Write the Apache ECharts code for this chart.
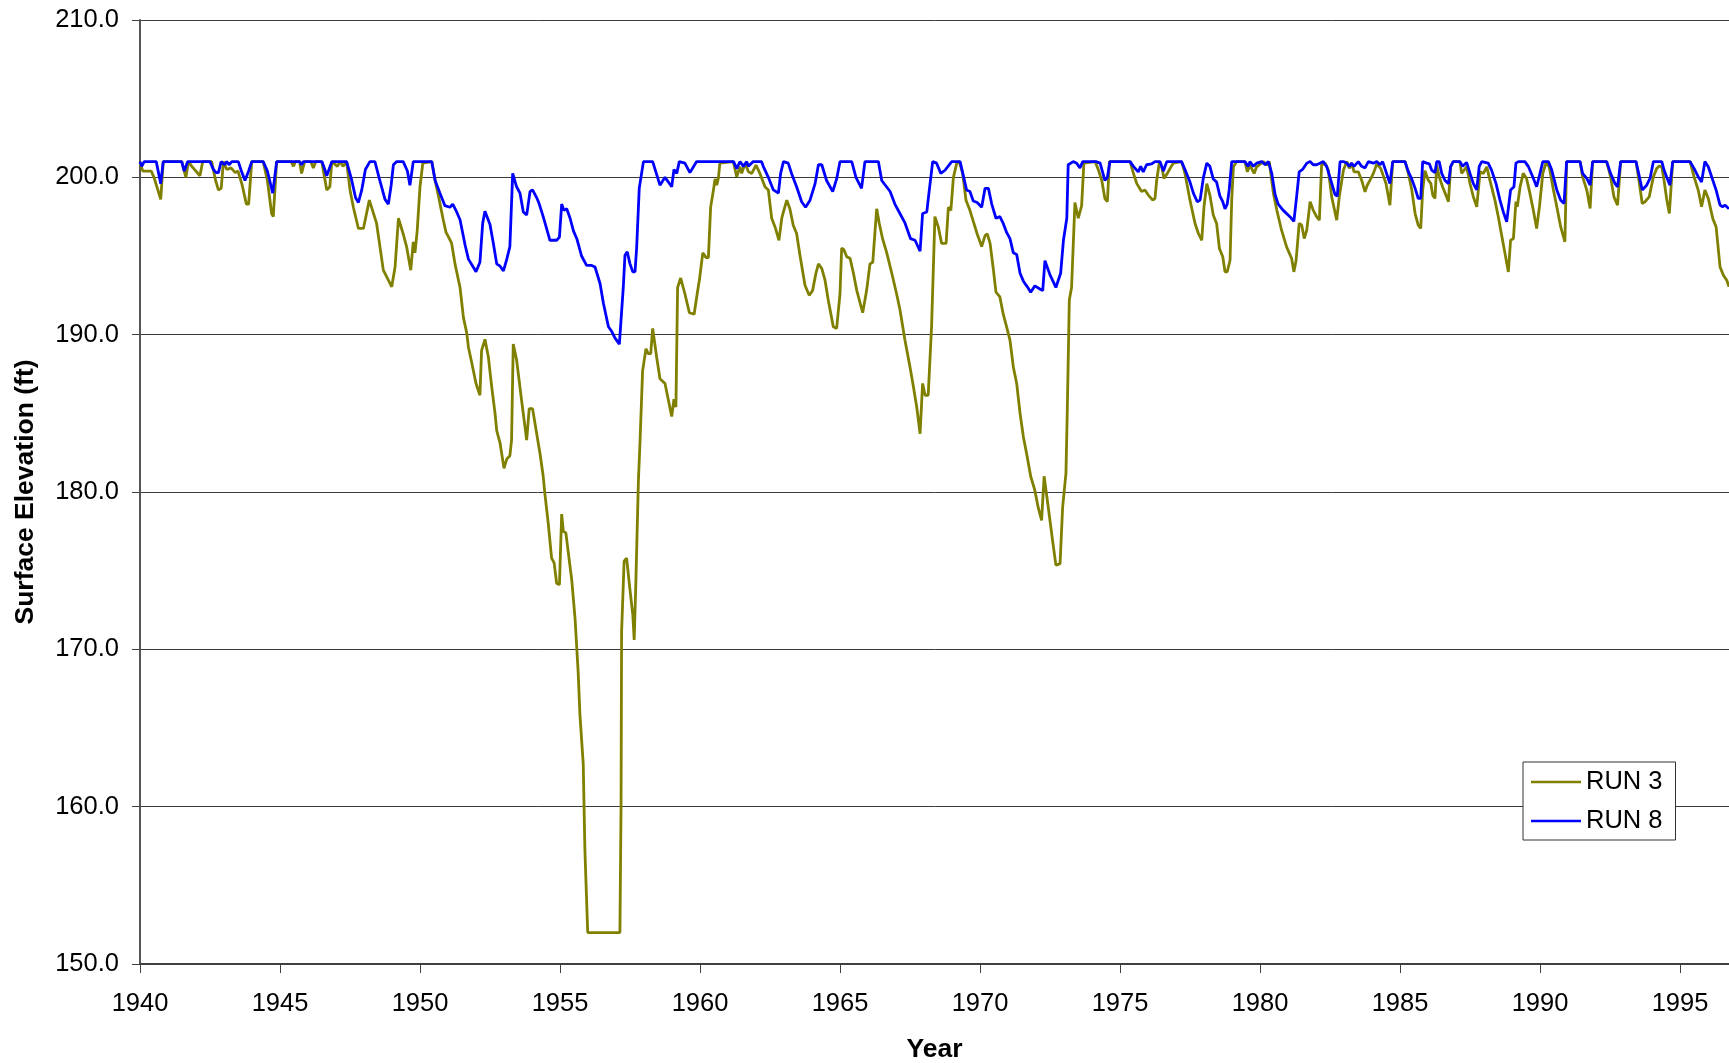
<!DOCTYPE html>
<html>
<head>
<meta charset="utf-8">
<title>Surface Elevation</title>
<script src="https://cdn.jsdelivr.net/npm/echarts@6/dist/echarts.min.js"></script>
<style>
  html, body { margin: 0; padding: 0; background: #fff; }
  #chart { width: 1729px; height: 1063px; }
</style>
</head>
<body>
<div id="chart"></div>
<script>
// Axis ticks
const yearTicks = [1940, 1945, 1950, 1955, 1960, 1965, 1970, 1975, 1980, 1985, 1990, 1995];
const elevationTicks = [150, 160, 170, 180, 190, 200, 210];

// RUN 3 surface elevation (ft), [year, value]
const run3_1940s = [
  [1940.00,200.9],[1940.10,200.4],[1940.40,200.4],[1940.50,200.0],[1940.74,198.6],[1940.83,201.0],
  [1941.49,201.0],[1941.64,200.0],[1941.73,201.0],[1941.85,200.7],[1942.14,200.1],[1942.24,201.0],
  [1942.56,201.0],[1942.70,199.8],[1942.80,199.2],[1942.90,199.3],[1942.98,201.0],[1943.10,200.5],
  [1943.25,200.6],[1943.40,200.3],[1943.50,200.4],[1943.65,199.5],[1943.80,198.3],[1943.88,198.3],
  [1943.99,201.0],[1944.40,201.0],[1944.55,199.8],[1944.70,197.7],[1944.76,197.5],[1944.88,201.0],
  [1945.40,201.0],[1945.48,200.7],[1945.55,201.0],[1945.70,201.0],[1945.77,200.25],[1945.88,201.0],
  [1946.10,201.0],[1946.19,200.6],[1946.28,201.0],[1946.49,201.0],[1946.67,199.2],[1946.78,199.4],
  [1946.85,201.0],[1947.05,200.7],[1947.15,201.0],[1947.25,200.7],[1947.38,201.0],[1947.50,199.2],
  [1947.62,198.1],[1947.80,196.75],[1947.98,196.75],[1948.19,198.55],[1948.45,197.07],[1948.69,194.1],
  [1948.87,193.46],[1948.99,193.04],[1949.11,194.3],[1949.23,197.4],[1949.40,196.4],[1949.52,195.6],
  [1949.67,194.1],[1949.76,195.9],[1949.82,195.2],[1949.90,196.6],[1950.00,199.4],[1950.10,200.9]
];
const run3_1950s = [
  [1950.42,201.0],[1950.54,199.8],[1950.66,198.8],[1950.83,197.3],[1950.93,196.5],[1951.05,196.1],
  [1951.13,195.8],[1951.25,194.5],[1951.43,193.0],[1951.55,191.1],[1951.67,190.1],[1951.73,189.2],
  [1951.85,188.2],[1952.00,186.9],[1952.14,186.15],[1952.20,189.0],[1952.32,189.7],[1952.44,188.6],
  [1952.56,186.7],[1952.68,185.0],[1952.74,183.9],[1952.86,183.1],[1953.00,181.5],[1953.10,182.1],
  [1953.21,182.3],[1953.27,183.3],[1953.33,189.4],[1953.45,188.4],[1953.63,185.8],[1953.81,183.3],
  [1953.90,185.3],[1954.02,185.3],[1954.14,184.0],[1954.29,182.4],[1954.40,181.0],[1954.46,179.9],
  [1954.58,178.0],[1954.70,175.8],[1954.79,175.5],[1954.88,174.2],[1954.98,174.1],[1955.06,178.6],
  [1955.12,177.5],[1955.21,177.4],[1955.30,176.1],[1955.42,174.4],[1955.54,171.9],[1955.65,168.5],
  [1955.71,165.9],[1955.83,162.7],[1955.89,157.2],[1955.99,152.0],[1956.67,152.0],[1957.14,152.0],
  [1957.18,160.0],[1957.20,171.1],[1957.29,175.6],[1957.38,175.8],[1957.48,174.1],[1957.60,172.2],
  [1957.65,170.6],[1957.71,174.3],[1957.80,180.7],[1957.86,183.3],[1957.95,187.7],[1958.07,189.1],
  [1958.15,188.8],[1958.24,188.8],[1958.31,190.4],[1958.45,188.6],[1958.57,187.2],[1958.75,186.9],
  [1958.99,184.8],[1959.07,185.9],[1959.14,185.4],[1959.20,193.0],[1959.31,193.6],[1959.46,192.6],
  [1959.62,191.4],[1959.79,191.3],[1959.90,192.6],[1959.98,193.5]
];
const run3_1960s = [
  [1960.10,195.2],[1960.22,194.9],[1960.30,194.9],[1960.38,198.1],[1960.48,199.2],[1960.54,199.9],
  [1960.60,199.5],[1960.66,200.0],[1960.71,200.9],[1961.19,201.0],[1961.31,200.04],[1961.43,200.67],
  [1961.49,200.25],[1961.61,200.9],[1961.73,200.35],[1961.85,200.25],[1962.00,200.78],[1962.14,200.25],
  [1962.32,199.4],[1962.44,199.2],[1962.56,197.4],[1962.68,196.85],[1962.82,196.0],[1962.92,197.4],
  [1962.98,197.8],[1963.10,198.55],[1963.21,198.0],[1963.33,196.96],[1963.45,196.43],[1963.57,195.05],
  [1963.75,193.14],[1963.90,192.5],[1964.02,192.8],[1964.14,193.9],[1964.23,194.5],[1964.35,194.2],
  [1964.46,193.5],[1964.58,192.2],[1964.76,190.5],[1964.88,190.4],[1965.00,192.6],[1965.06,195.5],
  [1965.14,195.4],[1965.24,194.95],[1965.36,194.85],[1965.48,193.9],[1965.60,192.8],[1965.81,191.4],
  [1965.95,192.8],[1966.07,194.5],[1966.17,194.6],[1966.31,198.0],[1966.40,197.1],[1966.52,196.1],
  [1966.67,195.2],[1966.85,193.9],[1967.02,192.6],[1967.14,191.6],[1967.32,189.65],[1967.50,187.95],
  [1967.62,186.7],[1967.74,185.4],[1967.86,183.7],[1967.95,186.9],[1968.04,186.15],[1968.15,186.15],
  [1968.27,190.5],[1968.39,197.5],[1968.51,196.85],[1968.63,195.8],[1968.79,195.8],[1968.87,198.1],
  [1968.96,197.9],[1969.05,200.0],[1969.17,200.9],[1969.26,201.0],[1969.38,200.25],[1969.50,198.55],
  [1969.64,197.9],[1969.76,197.2],[1969.90,196.4],[1970.06,195.6]
];
const run3_1970s = [
  [1970.18,196.3],[1970.26,196.4],[1970.36,195.8],[1970.48,194.1],[1970.57,192.7],[1970.71,192.4],
  [1970.83,191.3],[1970.95,190.5],[1971.07,189.65],[1971.19,187.95],[1971.31,186.9],[1971.43,185.0],
  [1971.55,183.5],[1971.69,182.2],[1971.81,181.0],[1971.96,180.1],[1972.08,179.0],[1972.20,178.2],
  [1972.29,181.0],[1972.44,179.0],[1972.56,177.35],[1972.71,175.35],[1972.86,175.45],[1972.95,179.0],
  [1973.07,181.2],[1973.12,185.4],[1973.19,192.2],[1973.27,193.0],[1973.39,198.4],[1973.51,197.4],
  [1973.63,198.2],[1973.71,200.9],[1974.11,201.0],[1974.23,200.46],[1974.35,199.8],[1974.46,198.65],
  [1974.55,198.45],[1974.62,201.0],[1975.36,201.0],[1975.48,200.25],[1975.60,199.6],[1975.65,199.7],
  [1975.77,199.1],[1975.89,199.2],[1976.01,198.87],[1976.17,198.55],[1976.25,198.66],[1976.31,199.8],
  [1976.40,200.9],[1976.49,200.67],[1976.57,199.93],[1976.69,200.25],[1976.79,200.57],[1976.90,200.9],
  [1977.20,201.0],[1977.32,200.25],[1977.50,198.55],[1977.68,197.07],[1977.80,196.43],[1977.92,196.0],
  [1978.00,198.13],[1978.10,199.6],[1978.21,198.87],[1978.33,197.6],[1978.45,197.07],[1978.55,195.48],
  [1978.67,194.95],[1978.75,194.0],[1978.83,194.0],[1978.93,194.73],[1978.99,198.55],[1979.05,200.67],
  [1979.17,201.0],[1979.46,201.0],[1979.55,200.35],[1979.64,200.78],[1979.79,200.25],[1979.88,200.67]
];
const run3_1980s = [
  [1980.12,201.0],[1980.24,200.78],[1980.33,201.0],[1980.48,198.98],[1980.60,197.92],[1980.77,196.64],
  [1980.95,195.58],[1981.13,194.84],[1981.21,193.99],[1981.29,194.73],[1981.40,197.07],[1981.49,196.96],
  [1981.58,196.11],[1981.67,196.64],[1981.79,198.45],[1981.90,197.92],[1982.02,197.5],[1982.12,197.28],
  [1982.20,200.78],[1982.32,200.9],[1982.44,200.46],[1982.56,198.76],[1982.74,197.28],[1982.83,198.76],
  [1982.98,200.46],[1983.10,201.0],[1983.19,200.57],[1983.27,200.9],[1983.36,200.35],[1983.51,200.35],
  [1983.63,199.82],[1983.75,199.08],[1983.83,199.5],[1983.93,199.82],[1984.05,200.25],[1984.17,200.85],
  [1984.31,200.57],[1984.38,200.67],[1984.50,199.61],[1984.64,198.23],[1984.74,201.0],[1985.18,201.0],
  [1985.30,200.25],[1985.42,199.2],[1985.54,197.7],[1985.65,196.96],[1985.74,196.75],[1985.81,199.19],
  [1985.89,200.42],[1986.01,199.82],[1986.10,199.61],[1986.17,198.87],[1986.25,198.66],[1986.31,200.78],
  [1986.40,200.04],[1986.52,199.4],[1986.64,198.87],[1986.73,198.45],[1986.81,200.67],[1986.90,201.0],
  [1987.14,201.0],[1987.20,200.25],[1987.29,200.46],[1987.38,200.67],[1987.50,199.61],[1987.62,198.76],
  [1987.74,198.13],[1987.86,200.35],[1987.98,200.25],[1988.10,200.67],[1988.21,199.82],[1988.39,198.55],
  [1988.51,197.49],[1988.63,196.32],[1988.75,195.16],[1988.87,193.99],[1988.95,196.0],[1989.05,196.11],
  [1989.14,198.45],[1989.19,198.13],[1989.29,199.4],[1989.40,200.25],[1989.52,199.93],[1989.64,198.98],
  [1989.76,197.92],[1989.88,196.75],[1989.98,198.13]
];
const run3_1990s = [
  [1990.10,200.25],[1990.21,200.9],[1990.33,200.67],[1990.48,199.19],[1990.60,198.13],[1990.74,196.85],
  [1990.89,195.9],[1990.95,201.0],[1991.43,201.0],[1991.52,200.04],[1991.67,199.19],[1991.79,198.02],
  [1991.88,201.0],[1992.38,201.0],[1992.52,200.04],[1992.64,198.76],[1992.77,198.23],[1992.88,201.0],
  [1993.43,201.0],[1993.55,199.61],[1993.65,198.34],[1993.75,198.45],[1993.90,198.76],[1994.05,200.04],
  [1994.17,200.57],[1994.26,200.72],[1994.35,200.67],[1994.43,199.82],[1994.52,198.66],[1994.62,197.7],
  [1994.74,201.0],[1995.36,201.0],[1995.50,200.04],[1995.65,199.19],[1995.77,198.13],[1995.89,199.19],
  [1996.01,198.66],[1996.17,197.39],[1996.29,196.85],[1996.43,194.31],[1996.55,193.78],[1996.67,193.46],
  [1996.75,193.04]
];

// RUN 8 surface elevation (ft), [year, value]
const run8_1940s = [
  [1940.00,201.0],[1940.06,200.7],[1940.15,201.0],[1940.58,201.0],[1940.74,199.6],[1940.83,201.0],
  [1941.49,201.0],[1941.58,200.4],[1941.70,201.0],[1942.50,201.0],[1942.62,200.5],[1942.72,200.3],
  [1942.80,200.3],[1942.90,201.0],[1943.02,200.8],[1943.10,201.0],[1943.18,200.8],[1943.28,201.0],
  [1943.51,201.0],[1943.62,200.4],[1943.75,199.8],[1943.88,200.4],[1943.99,201.0],[1944.40,201.0],
  [1944.55,200.4],[1944.74,199.0],[1944.88,201.0],[1945.70,201.0],[1945.77,200.8],[1945.84,201.0],
  [1946.50,201.0],[1946.60,200.5],[1946.67,200.1],[1946.85,201.0],[1947.38,201.0],[1947.55,199.9],
  [1947.70,198.7],[1947.80,198.4],[1947.92,199.2],[1948.05,200.5],[1948.21,201.0],[1948.39,201.0],
  [1948.55,199.9],[1948.75,198.6],[1948.87,198.3],[1948.97,199.5],[1949.05,200.8],[1949.17,201.0],
  [1949.40,201.0],[1949.55,200.4],[1949.64,199.5],[1949.76,201.0]
];
const run8_1950s = [
  [1950.42,201.0],[1950.54,199.8],[1950.71,199.0],[1950.89,198.2],[1951.07,198.1],[1951.17,198.3],
  [1951.31,197.8],[1951.43,197.3],[1951.61,195.7],[1951.73,194.8],[1951.90,194.3],[1952.00,194.0],
  [1952.14,194.6],[1952.24,197.1],[1952.32,197.85],[1952.50,197.0],[1952.62,195.8],[1952.74,194.5],
  [1952.86,194.35],[1952.98,194.05],[1953.10,194.8],[1953.21,195.6],[1953.31,200.25],[1953.45,199.4],
  [1953.57,199.0],[1953.69,197.8],[1953.81,197.6],[1953.93,199.1],[1954.02,199.2],[1954.17,198.7],
  [1954.26,198.3],[1954.40,197.5],[1954.52,196.75],[1954.64,196.0],[1954.88,196.0],[1954.98,196.2],
  [1955.06,198.3],[1955.14,197.9],[1955.24,198.0],[1955.36,197.4],[1955.48,196.6],[1955.60,196.1],
  [1955.77,195.0],[1955.95,194.4],[1956.13,194.4],[1956.25,194.3],[1956.43,193.25],[1956.55,192.0],
  [1956.73,190.5],[1956.85,190.2],[1956.96,189.8],[1957.12,189.4],[1957.17,189.4],[1957.26,193.0],
  [1957.32,195.05],[1957.40,195.26],[1957.50,194.5],[1957.60,194.0],[1957.68,194.0],[1957.74,195.6],
  [1957.83,199.3],[1957.98,201.0],[1958.31,201.0],[1958.57,199.5],[1958.75,200.0],[1958.99,199.4],
  [1959.07,200.5],[1959.17,200.25],[1959.26,201.0],[1959.46,200.9],[1959.64,200.3],[1959.88,201.0]
];
const run8_1960s = [
  [1961.20,201.0],[1961.31,200.55],[1961.43,201.0],[1961.55,200.7],[1961.67,201.0],[1961.73,200.7],
  [1961.90,201.0],[1962.20,201.0],[1962.26,200.7],[1962.44,200.0],[1962.62,199.2],[1962.80,199.0],
  [1962.88,200.25],[1962.98,201.0],[1963.15,200.9],[1963.27,200.25],[1963.45,199.4],[1963.63,198.45],
  [1963.77,198.1],[1963.93,198.55],[1964.11,199.6],[1964.23,200.8],[1964.35,200.8],[1964.52,199.8],
  [1964.74,199.1],[1964.88,199.9],[1965.00,201.0],[1965.42,201.0],[1965.57,200.0],[1965.77,199.3],
  [1965.89,201.0],[1966.37,201.0],[1966.49,199.8],[1966.79,199.1],[1966.96,198.3],[1967.14,197.7],
  [1967.32,197.1],[1967.52,196.1],[1967.68,196.0],[1967.86,195.3],[1967.95,197.7],[1968.10,197.8],
  [1968.19,199.2],[1968.31,201.0],[1968.45,200.9],[1968.60,200.25],[1968.75,200.45],[1968.99,201.0],
  [1969.29,201.0],[1969.52,199.2],[1969.64,199.1],[1969.76,198.5],[1969.90,198.4],[1970.06,198.1]
];
const run8_1970s = [
  [1970.18,199.3],[1970.30,199.3],[1970.42,198.3],[1970.57,197.4],[1970.71,197.5],[1970.83,197.07],
  [1970.95,196.5],[1971.07,196.1],[1971.19,195.2],[1971.31,195.1],[1971.43,193.9],[1971.55,193.4],
  [1971.69,193.04],[1971.81,192.7],[1971.96,193.1],[1972.14,192.9],[1972.24,192.8],[1972.32,194.7],
  [1972.50,193.8],[1972.71,193.0],[1972.88,193.9],[1972.98,196.0],[1973.10,197.4],[1973.15,200.8],
  [1973.33,201.0],[1973.45,200.9],[1973.57,200.6],[1973.67,201.0],[1974.14,201.0],[1974.29,200.9],
  [1974.46,199.8],[1974.55,200.0],[1974.64,201.0],[1975.36,201.0],[1975.48,200.7],[1975.65,200.35],
  [1975.74,200.7],[1975.83,200.35],[1975.95,200.8],[1976.13,200.85],[1976.25,201.0],[1976.43,201.0],
  [1976.55,200.4],[1976.67,201.0],[1977.20,201.0],[1977.32,200.5],[1977.50,199.7],[1977.62,199.0],
  [1977.76,198.45],[1977.86,198.55],[1977.98,200.0],[1978.10,200.9],[1978.21,200.7],[1978.33,199.9],
  [1978.45,199.7],[1978.57,198.8],[1978.67,198.45],[1978.75,198.0],[1978.83,198.3],[1978.90,199.2],
  [1978.99,201.0],[1979.46,201.0],[1979.58,200.7],[1979.64,201.0],[1979.76,200.7],[1979.88,200.9]
];
const run8_1980s = [
  [1980.06,201.0],[1980.18,200.8],[1980.30,201.0],[1980.42,200.25],[1980.54,198.9],[1980.65,198.3],
  [1980.83,197.9],[1981.07,197.5],[1981.21,197.2],[1981.31,198.8],[1981.40,200.35],[1981.52,200.5],
  [1981.67,200.9],[1981.79,201.0],[1981.90,200.8],[1982.02,200.8],[1982.14,200.9],[1982.26,201.0],
  [1982.38,200.7],[1982.50,200.0],[1982.68,198.9],[1982.76,198.8],[1982.86,201.0],[1982.98,201.0],
  [1983.10,200.9],[1983.19,200.7],[1983.27,200.9],[1983.36,200.7],[1983.51,201.0],[1983.63,200.7],
  [1983.75,200.6],[1983.87,201.0],[1984.05,200.9],[1984.17,201.0],[1984.29,200.8],[1984.38,201.0],
  [1984.52,200.25],[1984.64,199.6],[1984.74,201.0],[1985.18,201.0],[1985.30,200.35],[1985.42,199.9],
  [1985.54,199.3],[1985.65,198.66],[1985.74,198.66],[1985.81,201.0],[1985.95,200.9],[1986.05,200.85],
  [1986.13,200.46],[1986.25,200.3],[1986.31,201.0],[1986.40,201.0],[1986.49,200.25],[1986.61,199.8],
  [1986.73,199.6],[1986.81,200.7],[1986.90,201.0],[1987.14,201.0],[1987.24,200.7],[1987.38,200.95],
  [1987.50,200.25],[1987.62,199.6],[1987.74,199.2],[1987.83,200.7],[1987.92,201.0],[1988.15,200.9],
  [1988.27,200.46],[1988.43,199.6],[1988.57,198.55],[1988.69,197.8],[1988.81,197.17],[1988.87,197.07],
  [1988.95,199.2],[1989.07,199.4],[1989.14,200.9],[1989.23,201.0],[1989.46,201.0],[1989.58,200.7],
  [1989.74,200.04],[1989.88,199.4]
];
const run8_1990s = [
  [1990.00,200.25],[1990.10,201.0],[1990.30,201.0],[1990.42,200.46],[1990.60,199.2],[1990.74,198.55],
  [1990.86,198.34],[1990.95,201.0],[1991.43,201.0],[1991.52,200.25],[1991.67,199.93],[1991.79,199.5],
  [1991.88,201.0],[1992.38,201.0],[1992.52,200.25],[1992.68,199.6],[1992.77,199.4],[1992.88,201.0],
  [1993.43,201.0],[1993.55,200.04],[1993.65,199.2],[1993.81,199.5],[1993.93,199.93],[1994.05,201.0],
  [1994.35,201.0],[1994.43,200.46],[1994.52,200.04],[1994.64,199.5],[1994.74,201.0],[1995.36,201.0],
  [1995.50,200.57],[1995.65,200.04],[1995.77,199.7],[1995.89,201.0],[1996.01,200.67],[1996.13,200.04],
  [1996.29,199.19],[1996.43,198.23],[1996.52,198.13],[1996.61,198.23],[1996.75,198.0]
];

const run3 = [].concat(run3_1940s, run3_1950s, run3_1960s, run3_1970s, run3_1980s, run3_1990s);
const run8 = [].concat(run8_1940s, run8_1950s, run8_1960s, run8_1970s, run8_1980s, run8_1990s);

const FONT = '"Liberation Sans", Arial, Helvetica, sans-serif';
const RUN3_COLOR = '#808000';
const RUN8_COLOR = '#0000ff';

const chart = echarts.init(document.getElementById('chart'), null, { renderer: 'canvas' });
chart.setOption({
  animation: false,
  backgroundColor: '#ffffff',
  textStyle: { fontFamily: FONT },
  grid: { left: 140, top: 20, right: 0, bottom: 99, containLabel: false, outerBoundsMode: 'none' },
  legend: {
    orient: 'vertical',
    left: 1523,
    top: 762,
    padding: [7, 13, 6, 8],
    itemGap: 13,
    itemWidth: 50,
    itemHeight: 2.5,
    backgroundColor: '#ffffff',
    borderColor: '#333333',
    borderWidth: 1,
    borderRadius: 0,
    textStyle: { fontFamily: FONT, fontSize: 25.5, color: '#000', lineHeight: 26 },
    data: [
      { name: 'RUN 3', icon: 'rect' },
      { name: 'RUN 8', icon: 'rect' }
    ]
  },
  xAxis: {
    type: 'value',
    min: 1940,
    max: 1996.75,
    interval: 5,
    name: 'Year',
    nameLocation: 'middle',
    nameGap: 72,
    nameTextStyle: { fontFamily: FONT, fontSize: 26.5, fontWeight: 'bold', color: '#000' },
    axisLine: { show: true, onZero: false, lineStyle: { color: '#404040', width: 2 } },
    axisTick: { show: true, length: 9, customValues: yearTicks, lineStyle: { color: '#404040', width: 1 } },
    axisLabel: {
      customValues: yearTicks,
      formatter: v => String(v),
      fontFamily: FONT, fontSize: 25.5, color: '#000', margin: 27
    },
    splitLine: { show: false }
  },
  yAxis: {
    type: 'value',
    min: 150,
    max: 210,
    interval: 10,
    name: 'Surface Elevation (ft)',
    nameLocation: 'middle',
    nameGap: 101,
    nameTextStyle: { fontFamily: FONT, fontSize: 26.5, fontWeight: 'bold', color: '#000' },
    axisLine: { show: true, lineStyle: { color: '#555555', width: 2 } },
    axisTick: { show: true, length: 8, lineStyle: { color: '#404040', width: 1 } },
    axisLabel: {
      customValues: elevationTicks,
      formatter: v => v.toFixed(1),
      fontFamily: FONT, fontSize: 25.5, color: '#000', margin: 21
    },
    splitLine: { show: true, lineStyle: { color: '#3a3a3a', width: 1 } }
  },
  series: [
    {
      name: 'RUN 3',
      type: 'line',
      data: run3,
      symbol: 'none',
      color: RUN3_COLOR,
      lineStyle: { color: RUN3_COLOR, width: 2.8 },
      z: 2
    },
    {
      name: 'RUN 8',
      type: 'line',
      data: run8,
      symbol: 'none',
      color: RUN8_COLOR,
      lineStyle: { color: RUN8_COLOR, width: 2.8 },
      z: 3
    }
  ]
});
</script>
</body>
</html>
